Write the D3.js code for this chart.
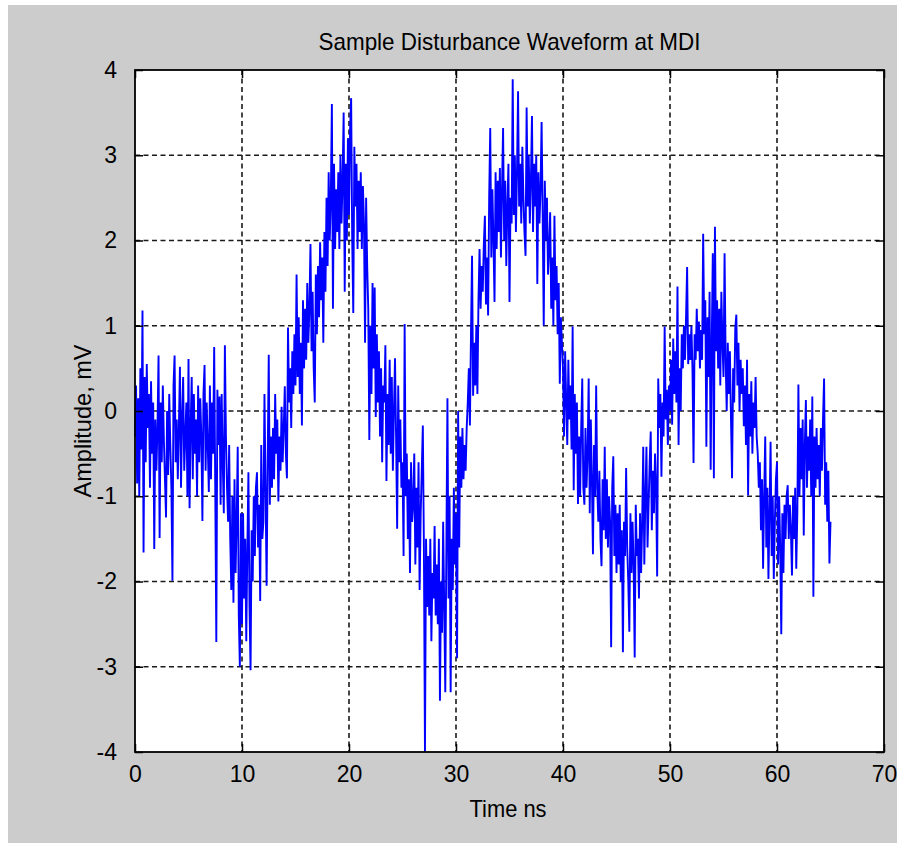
<!DOCTYPE html>
<html>
<head>
<meta charset="utf-8">
<script src="https://cdn.jsdelivr.net/npm/d3@7"></script>
<style>
  html, body { margin: 0; padding: 0; background: #ffffff; }
  svg { display: block; }
  text { font-family: "Liberation Sans", Arial, Helvetica, sans-serif; fill: #000; }
</style>
</head>
<body>
<svg id="chart" width="897" height="843"></svg>
<script>
// Disturbance waveform, sampled every 0.1 ns from 0 to 65 ns (one row per ns)
const sampleStepNs = 0.1;
const amplitudeMv = [
  -0.3, 0.3, -0.85, 0.15, -1.0, 0.5, -0.45, 1.18, -1.66, 0.4,
  -0.6, 0.55, -0.2, 0.2, -0.9, 0.35, -0.5, 0.1, -1.62, -0.1,
  -0.7, -0.2, 0.65, -1.49, 0.1, -0.6, 0.3, -0.35, -0.8, -1.25,
  0.0, -0.75, 0.2, -0.4, -0.9, -1.99, 0.3, 0.65, -0.6, -0.1,
  -0.8, -0.2, 0.52, -0.9, -0.1, 0.4, -0.7, -0.3, 0.1, -1.0,
  0.61, -1.14, -0.2, 0.4, -0.8, 0.2, -0.5, -0.1, -1.0, 0.3,
  -0.6, 0.15, -0.3, -1.29, 0.2, 0.54, -0.7, 0.1, -0.4, -0.95,
  0.3, -0.8, 0.1, -0.5, 0.75, -0.9, -2.71, 0.25, -0.4, 0.17,
  -1.1, 0.2, -0.6, -1.2, 0.77, -0.3, -0.9, -1.3, -0.4, -1.5,
  -2.1, -1.0, -2.25, -0.8, -1.9, -1.3, -0.42, -2.4, -3.0, -1.2,
  -2.5, -1.2, -2.2, -1.5, -2.7, -1.6, -0.72, -2.3, -3.04, -1.4,
  -2.0, -1.0, -1.7, -0.9, -0.72, -1.6, -1.1, -2.23, -0.4, -1.5,
  -1.3, 0.2, -0.9, -2.05, -0.6, 0.66, -1.1, -0.3, -0.9, -0.2,
  -0.8, 0.2, -0.5, -0.1, -1.06, -0.3, -0.7, 0.05, -0.6, -0.2,
  0.29, -0.5, -0.79, 0.98, 0.1, 0.5, -0.2, 0.7, 0.2, 0.9,
  0.3, 1.6, 0.4, 1.1, 0.2, 0.8, -0.17, 1.3, 0.5, 1.2,
  0.6, 1.5, 0.8, 1.2, 1.96, 0.7, 1.4, 0.5, 0.1, 1.6,
  0.9, 1.7, 1.1, 1.98, 1.3, 1.8, 0.8, 2.1, 1.4, 2.5,
  1.7, 2.8, 2.0, 2.5, 3.6, 1.2, 2.9, 1.9, 2.6, 2.1,
  2.8, 1.9, 3.0, 2.2, 2.7, 3.5, 1.4, 2.9, 2.0, 3.2,
  2.3, 3.3, 3.67, 2.0, 1.15, 3.1, 2.4, 2.9, 1.9, 2.7,
  2.1, 2.8, 1.9, 2.64, 2.2, 0.8, 2.5, 1.7, 1.2, -0.34,
  1.0, 0.2, 1.5, 0.5, 1.45, -0.07, 0.9, 0.1, 0.7, -0.3,
  0.5, -0.6, 0.3, 0.1, 0.77, -0.82, 0.2, -0.4, 0.6, -0.5,
  0.4, -0.7, 0.0, 0.62, -0.3, -1.38, 0.3, -0.6, -0.1, -0.9,
  -0.6, -1.7, 1.02, -1.0, -0.5, -1.5, -0.8, -1.9, -0.6, -1.3,
  -1.1, -0.5, -1.8, -0.9, -1.6, -0.6, -2.1, -1.2, -0.7, -0.17,
  -1.6, -4.0, -1.5, -2.3, -1.7, -2.4, -1.5, -2.7, -1.9, -2.2,
  -1.35, -2.4, -1.8, -2.5, -1.5, -3.4, -2.0, -2.6, -1.3, -2.3,
  -3.3, -1.6, 0.15, -2.2, -1.0, -3.3, -1.5, -2.1, -0.9, -1.8,
  -1.2, -2.9, 0.0, -1.6, -0.3, -0.9, -0.2, -0.8, -0.4, -0.7,
  -0.2, 0.1, 0.5, -0.17, 0.9, 1.82, 0.18, 0.8, 0.3, 1.0,
  0.2, 1.3, 1.9, 1.2, 1.7, 1.4, 1.95, 2.29, 1.25, 1.8,
  1.12, 2.5, 3.32, 1.8, 2.6, 2.0, 1.28, 2.8, 1.9, 2.7,
  2.1, 2.85, 1.8, 2.6, 3.32, 2.0, 2.7, 1.7, 2.4, 2.9,
  1.28, 2.5, 2.2, 3.89, 2.3, 3.0, 2.1, 2.8, 3.75, 2.4,
  2.9, 2.2, 3.1, 2.5, 2.1, 1.82, 3.56, 2.4, 3.0, 2.2,
  2.7, 3.46, 2.1, 2.9, 2.4, 3.0, 1.49, 2.8, 2.2, 2.6,
  3.39, 2.3, 1.0, 2.7, 2.0, 2.5, 1.6, 1.9, 2.33, 1.2,
  1.8, 1.0, 2.29, 1.3, 1.7, 0.9, 1.5, 0.32, 1.1, 0.8,
  0.5, -0.3, 0.7, 0.1, -0.4, 0.6, -0.1, 0.3, -0.45, 0.99,
  -0.93, 0.2, -0.5, 0.1, -1.09, -0.3, -1.0, -0.2, 0.38, -0.9,
  -1.1, -0.2, -0.9, -0.5, 0.38, -1.2, -0.1, -0.8, -1.68, -0.4,
  -1.0, 0.3, -0.9, -1.3, -0.7, -1.5, -1.82, -0.8, -1.4, -0.42,
  -1.5, -0.8, -1.6, -1.0, -1.3, -2.77, -0.9, -0.53, -1.7, -1.1,
  -1.9, -1.2, -1.8, -1.1, -2.0, -1.4, -2.83, -1.3, -1.7, -0.67,
  -1.6, -2.0, -2.59, -1.2, -1.9, -1.3, -1.8, -2.89, -1.1, -1.7,
  -1.5, -2.2, -1.2, -1.9, -1.3, -0.42, -1.8, -1.0, -0.42, -1.6,
  -1.1, -0.6, -0.24, -1.4, -0.7, -1.2, -0.5, -0.9, -1.94, 0.38,
  -0.2, 0.2, -0.77, 0.1, -0.3, 0.99, -0.1, 0.25, -0.4, 0.3,
  0.0, 0.6, -0.16, 0.85, 0.2, 0.7, 0.1, 1.46, -0.4, 0.5,
  0.0, 0.9, 0.5, 1.0, 0.6, 1.1, 1.69, 0.55, 0.9, 0.6,
  1.0, 0.5, -0.61, 0.9, 0.6, 1.2, 0.7, 1.05, 0.5, 0.95,
  0.6, 2.08, 0.9, 1.3, -0.42, 1.1, 0.4, 1.4, -0.69, 0.8,
  1.85, -0.79, 2.16, 0.7, 1.3, 0.5, 1.2, 0.3, 1.4, 0.8,
  0.4, 1.85, 0.6, 0.0, 0.8, 0.2, 0.7, -0.1, -0.79, 0.5,
  0.1, 0.97, 1.13, 0.3, 0.8, 0.0, 0.6, 0.2, 0.5, -0.18,
  0.3, -0.4, 0.6, -0.99, 0.2, -0.3, 0.35, -0.5, 0.1, -0.2,
  0.4, -0.3, -0.5, -0.9, -0.6, -1.4, -0.8, -1.85, -1.0, -0.3,
  -1.6, -0.9, -1.97, -1.2, -0.36, -1.7, -1.0, -1.97, -1.3, -0.8,
  -0.6, -1.8, -1.0, -1.6, -2.62, -1.2, -1.9, -1.1, -1.5, -1.0,
  -0.87, -1.5, -1.1, -1.4, -1.93, -1.0, -1.5, -0.9, -1.85, -1.2,
  0.31, -1.0, -0.2, -0.8, -0.1, -1.46, -0.4, 0.13, -0.9, -0.3,
  -0.7, -0.1, -1.0, 0.17, -2.18, -0.3, -0.9, -0.2, -0.8, -0.4,
  -1.0, -0.2, -0.7, -0.1, 0.38, -1.1, -0.6, -1.3, -0.7, -1.79,
  -1.3
];

const xTicks = [0, 10, 20, 30, 40, 50, 60, 70];
const yTicks = [-4, -3, -2, -1, 0, 1, 2, 3, 4];
const titleText = "Sample Disturbance Waveform at MDI";
const xLabelText = "Time ns";
const yLabelText = "Amplitude, mV";

const svg = d3.select("#chart");
const W = 897, H = 843;
const plot = { left: 135, right: 884, top: 70, bottom: 752 };

// Figure background
svg.append("rect")
  .attr("x", 8).attr("y", 5)
  .attr("width", W - 8).attr("height", H - 5)
  .attr("fill", "#cccccc");

const x = d3.scaleLinear().domain([0, 70]).range([plot.left, plot.right]);
const y = d3.scaleLinear().domain([-4, 4]).range([plot.bottom, plot.top]);

// Axes area
svg.append("rect")
  .attr("x", plot.left).attr("y", plot.top)
  .attr("width", plot.right - plot.left)
  .attr("height", plot.bottom - plot.top)
  .attr("fill", "#ffffff");

// Dashed grid
const grid = svg.append("g")
  .attr("stroke", "#1a1a1a")
  .attr("stroke-width", 1.6)
  .attr("stroke-dasharray", "5,3.5");
grid.selectAll("line.gx")
  .data(xTicks.slice(1, -1))
  .join("line")
  .attr("class", "gx")
  .attr("x1", d => x(d)).attr("x2", d => x(d))
  .attr("y1", plot.top).attr("y2", plot.bottom);
grid.selectAll("line.gy")
  .data(yTicks.slice(1, -1))
  .join("line")
  .attr("class", "gy")
  .attr("x1", plot.left).attr("x2", plot.right)
  .attr("y1", d => y(d)).attr("y2", d => y(d));

// Waveform
const series = amplitudeMv.map((v, i) => ({ t: i * sampleStepNs, v }));
const line = d3.line().x(d => x(d.t)).y(d => y(d.v));
svg.append("path")
  .datum(series)
  .attr("fill", "none")
  .attr("stroke", "#0000ff")
  .attr("stroke-width", 1.9)
  .attr("stroke-linejoin", "bevel")
  .attr("d", line);

// Axes with inward ticks on all four sides
const tickLen = 8;
const plainNumber = d => String(d);
const axisStyle = g => {
  g.select(".domain").remove();
  g.selectAll(".tick line").attr("stroke", "#000").attr("stroke-width", 1.5);
  g.selectAll(".tick text")
    .attr("font-family", "'Liberation Sans', Arial, sans-serif")
    .attr("font-size", 23)
    .attr("fill", "#000");
};

svg.append("g")
  .attr("transform", `translate(0,${plot.bottom})`)
  .call(d3.axisBottom(x).tickValues(xTicks).tickFormat(plainNumber)
    .tickSizeInner(-tickLen).tickSizeOuter(0).tickPadding(14))
  .call(axisStyle)
  .call(g => g.selectAll(".tick text").attr("dy", "0.71em"));

svg.append("g")
  .attr("transform", `translate(0,${plot.top})`)
  .call(d3.axisTop(x).tickValues(xTicks).tickFormat("")
    .tickSizeInner(-tickLen).tickSizeOuter(0))
  .call(axisStyle);

svg.append("g")
  .attr("transform", `translate(${plot.left},0)`)
  .call(d3.axisLeft(y).tickValues(yTicks).tickFormat(plainNumber)
    .tickSizeInner(-tickLen).tickSizeOuter(0).tickPadding(18))
  .call(axisStyle);

svg.append("g")
  .attr("transform", `translate(${plot.right},0)`)
  .call(d3.axisRight(y).tickValues(yTicks).tickFormat("")
    .tickSizeInner(-tickLen).tickSizeOuter(0))
  .call(axisStyle);

// Axes box
svg.append("rect")
  .attr("x", plot.left).attr("y", plot.top)
  .attr("width", plot.right - plot.left)
  .attr("height", plot.bottom - plot.top)
  .attr("fill", "none")
  .attr("stroke", "#000")
  .attr("stroke-width", 1.8);

// Title and axis labels
svg.append("text")
  .attr("x", (plot.left + plot.right) / 2)
  .attr("y", 50)
  .attr("text-anchor", "middle")
  .attr("font-size", 24)
  .attr("textLength", 382)
  .attr("lengthAdjust", "spacingAndGlyphs")
  .text(titleText);

svg.append("text")
  .attr("x", 508)
  .attr("y", 817)
  .attr("text-anchor", "middle")
  .attr("font-size", 24)
  .attr("textLength", 77)
  .attr("lengthAdjust", "spacingAndGlyphs")
  .text(xLabelText);

svg.append("text")
  .attr("transform", "translate(91,421) rotate(-90)")
  .attr("text-anchor", "middle")
  .attr("font-size", 24)
  .attr("textLength", 153)
  .attr("lengthAdjust", "spacingAndGlyphs")
  .text(yLabelText);
</script>
</body>
</html>
